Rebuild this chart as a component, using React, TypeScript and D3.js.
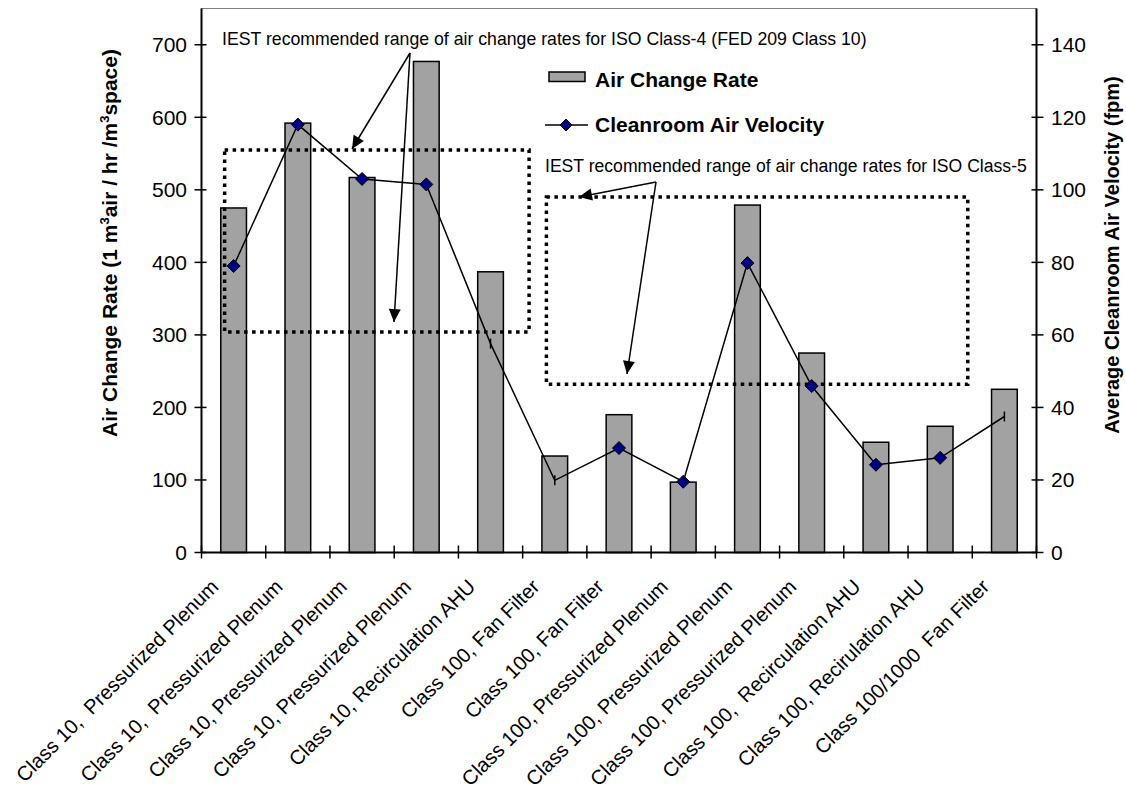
import React from "react";
import * as d3 from "d3";

const categories = [
  "Class 10,  Pressurized Plenum",
  "Class 10,  Pressurized Plenum",
  "Class 10, Pressurized Plenum",
  "Class 10, Pressurized Plenum",
  "Class 10, Recirculation AHU",
  "Class 100, Fan Filter",
  "Class 100, Fan Filter",
  "Class 100, Pressurized Plenum",
  "Class 100, Pressurized Plenum",
  "Class 100, Pressurized Plenum",
  "Class 100,  Recirculation AHU",
  "Class 100, Recirulation AHU",
  "Class 100/1000  Fan Filter",
];
const airChangeRate = [475, 592, 517, 677, 387, 133, 190, 97, 479, 275, 152, 174, 225];
const airVelocity = [79, 118, 103, 101.5, 57.6, 19.9, 28.8, 19.5, 79.8, 45.9, 24.2, 26.1, 37.5];
const markerKinds = ["d", "d", "d", "d", "t", "t", "d", "d", "d", "d", "d", "d", "t"];
const leftTicks = [0, 100, 200, 300, 400, 500, 600, 700];
const rightTicks = [0, 20, 40, 60, 80, 100, 120, 140];

const FONT = "'Liberation Sans', Arial, sans-serif";

export default function App() {
  const W = 1126, H = 797;
  const left = 201.5, right = 1036.5, top = 8.5, bottom = 552.5;
  const idx = categories.map((_, i) => i);
  const x = d3.scaleBand<number>().domain(idx).range([left, right]).padding(0);
  const bw = x.bandwidth();
  const cx = (i: number) => (x(i) as number) + bw / 2;
  const yL = d3.scaleLinear().domain([0, 750]).range([bottom, top]);
  const yR = d3.scaleLinear().domain([0, 150]).range([bottom, top]);
  const xc = d3.scaleLinear().domain([0, categories.length]).range([left, right]);

  const line = d3
    .line<number>()
    .x((_, i) => cx(i))
    .y((d) => yR(d));

  const diamond = (px: number, py: number, r = 6.5) =>
    `M${px},${py - r}L${px + r},${py}L${px},${py + r}L${px - r},${py}Z`;

  const arrowHead = (x1: number, y1: number, x2: number, y2: number) => {
    const a = Math.atan2(y2 - y1, x2 - x1);
    const L = 13, w = 6;
    const bx = x2 - L * Math.cos(a), by = y2 - L * Math.sin(a);
    const px = -Math.sin(a) * w, py = Math.cos(a) * w;
    return `M${x2},${y2}L${bx + px},${by + py}L${bx - px},${by - py}Z`;
  };

  const arrows = [
    { x1: 410, y1: 53, x2: 352, y2: 149 },
    { x1: 410, y1: 53, x2: 394, y2: 322 },
    { x1: 656, y1: 182, x2: 579, y2: 197 },
    { x1: 656, y1: 182, x2: 627, y2: 374 },
  ];

  const box1 = { x0: xc(0.36), x1: xc(5.1), y0: yL(555), y1: yL(304) };
  const box2 = { x0: xc(5.37), x1: xc(11.93), y0: yL(490), y1: yL(232) };

  return (
    <svg
      width={W}
      height={H}
      style={{ position: "absolute", left: 0, top: 0, background: "#fff" }}
      fontFamily={FONT}
    >
      <rect x={0} y={0} width={W} height={H} fill="#fff" />
      <rect x={left} y={top} width={right - left} height={bottom - top} fill="none" stroke="#808080" strokeWidth={1} />

      {airChangeRate.map((v, i) => (
        <rect
          key={i}
          x={(x(i) as number) + bw * 0.3}
          y={yL(v)}
          width={bw * 0.4}
          height={yL(0) - yL(v)}
          fill="#a2a2a2"
          stroke="#000"
          strokeWidth={1.5}
        />
      ))}

      {[box1, box2].map((b, i) => (
        <rect
          key={i}
          x={b.x0}
          y={b.y0}
          width={b.x1 - b.x0}
          height={b.y1 - b.y0}
          fill="none"
          stroke="#000"
          strokeWidth={3.5}
          strokeDasharray="3.5 4.5"
        />
      ))}

      <path d={line(airVelocity) || ""} fill="none" stroke="#000" strokeWidth={1.5} />
      {airVelocity.map((v, i) =>
        markerKinds[i] === "d" ? (
          <path key={i} d={diamond(cx(i), yR(v))} fill="#000080" stroke="#000" strokeWidth={1} />
        ) : (
          <line key={i} x1={cx(i)} x2={cx(i)} y1={yR(v) - 5} y2={yR(v) + 5} stroke="#000" strokeWidth={1.5} />
        )
      )}

      <line x1={left} x2={left} y1={top} y2={bottom} stroke="#000" strokeWidth={2} />
      <line x1={right} x2={right} y1={top} y2={bottom} stroke="#000" strokeWidth={2} />
      <line x1={left} x2={right} y1={bottom} y2={bottom} stroke="#000" strokeWidth={2} />
      {leftTicks.map((t) => (
        <g key={t}>
          <line x1={left - 7} x2={left + 5} y1={yL(t)} y2={yL(t)} stroke="#000" strokeWidth={1.5} />
          <text x={187} y={yL(t)} dy="0.35em" textAnchor="end" fontSize={21}>
            {t}
          </text>
        </g>
      ))}
      {rightTicks.map((t) => (
        <g key={t}>
          <line x1={right - 5} x2={right + 7} y1={yR(t)} y2={yR(t)} stroke="#000" strokeWidth={1.5} />
          <text x={1051} y={yR(t)} dy="0.35em" textAnchor="start" fontSize={21}>
            {t}
          </text>
        </g>
      ))}
      {d3.range(categories.length + 1).map((i) => (
        <line key={i} x1={xc(i)} x2={xc(i)} y1={bottom - 7} y2={bottom + 6} stroke="#000" strokeWidth={1.5} />
      ))}

      {categories.map((c, i) => (
        <text
          key={i}
          transform={`translate(${cx(i) - 14},${588}) rotate(-45)`}
          textAnchor="end"
          fontSize={20.2}
          style={{ whiteSpace: "pre" }}
        >
          {c}
        </text>
      ))}

      <text
        transform={`translate(117,243) rotate(-90)`}
        textAnchor="middle"
        fontSize={21}
        fontWeight="bold"
      >
        Air Change Rate (1 m<tspan fontSize={13} dy="-8">3</tspan>
        <tspan dy="8">air / hr /m</tspan>
        <tspan fontSize={13} dy="-8">3</tspan>
        <tspan dy="8">space)</tspan>
      </text>
      <text
        transform={`translate(1119,255) rotate(-90)`}
        textAnchor="middle"
        fontSize={20}
        fontWeight="bold"
      >
        Average Cleanroom Air Velocity (fpm)
      </text>

      <rect x={549} y={72} width={36} height={9.5} fill="#a2a2a2" stroke="#000" strokeWidth={1.5} />
      <text x={595} y={87} fontSize={21} fontWeight="bold">
        Air Change Rate
      </text>
      <line x1={545} x2={588} y1={125} y2={125} stroke="#000" strokeWidth={1.5} />
      <path d={diamond(566, 125, 6)} fill="#000080" stroke="#000" strokeWidth={1} />
      <text x={595} y={132} fontSize={21} fontWeight="bold">
        Cleanroom Air Velocity
      </text>

      <text x={222} y={45} fontSize={17.7}>
        IEST recommended range of air change rates for ISO Class-4 (FED 209 Class 10)
      </text>
      <text x={545} y={172} fontSize={17.6}>
        IEST recommended range of air change rates for ISO Class-5
      </text>
      {arrows.map((a, i) => (
        <g key={i}>
          <line x1={a.x1} y1={a.y1} x2={a.x2} y2={a.y2} stroke="#000" strokeWidth={1.5} />
          <path d={arrowHead(a.x1, a.y1, a.x2, a.y2)} fill="#000" />
        </g>
      ))}
    </svg>
  );
}
